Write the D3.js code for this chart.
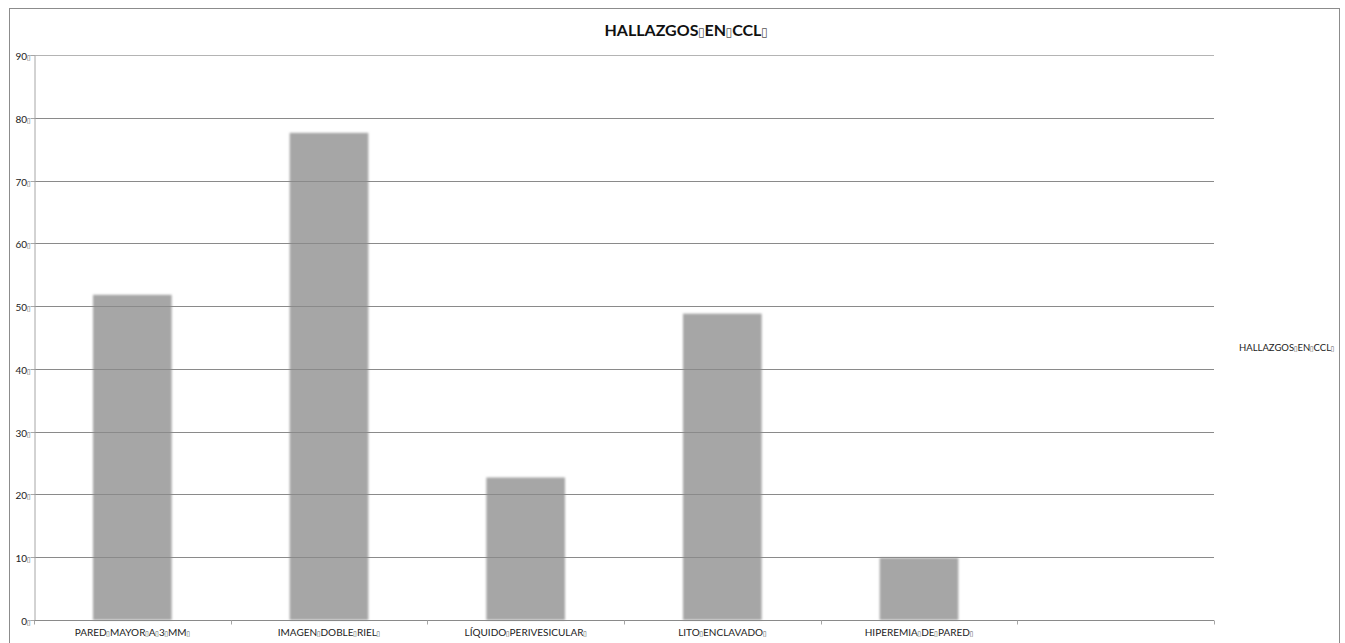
<!DOCTYPE html>
<html><head><meta charset="utf-8">
<script src="https://cdn.jsdelivr.net/npm/d3@7"></script>
<style>
html,body{margin:0;padding:0;background:#fff;}
svg{display:block;font-family:Lato,"Liberation Sans",sans-serif;}
</style></head>
<body>
<svg id="c" width="1345" height="643"></svg>
<script>
const T = "\u25AF"; // tofu-like placeholder seen in the reference text
const title = "HALLAZGOS" + T + "EN" + T + "CCL" + T;
const categories = ["PARED"+T+"MAYOR"+T+"A"+T+"3"+T+"MM"+T, "IMAGEN"+T+"DOBLE"+T+"RIEL"+T, "LÍQUIDO"+T+"PERIVESICULAR"+T, "LITO"+T+"ENCLAVADO"+T, "HIPEREMIA"+T+"DE"+T+"PARED"+T, ""];
const values = [51.8, 77.6, 22.7, 48.8, 9.9, null];
const yTicks = [0,10,20,30,40,50,60,70,80,90];
const seriesName = "HALLAZGOS" + T + "EN" + T + "CCL" + T;

const svg = d3.select("#c");
const m = {left:34, right:1214, top:55, bottom:620};

const defs = svg.append("defs");
defs.append("filter").attr("id","soft").attr("x","-10%").attr("y","-10%").attr("width","120%").attr("height","120%")
  .append("feGaussianBlur").attr("stdDeviation",1.1);

// outer frame
svg.append("rect").attr("x",9.5).attr("y",8.5).attr("width",1330).attr("height",660)
  .attr("fill","none").attr("stroke","#8c8c8c").attr("stroke-width",1);

const x = d3.scaleBand().domain(d3.range(categories.length)).range([m.left, m.right]).paddingInner(0).paddingOuter(0);
const y = d3.scaleLinear().domain([0,90]).range([m.bottom, m.top]);

function addText(sel, str, tofuSize){
  const parts = str.split(T);
  parts.forEach((p,i)=>{
    if(p) sel.append("tspan").text(p);
    if(i < parts.length-1) sel.append("tspan").attr("font-size",tofuSize).attr("font-weight","normal")
      .attr("fill","#555").attr("font-family","DejaVu Sans").attr("dx",-0.5).text(T);
  });
}

// bars
const bw = x.bandwidth()*0.4;
svg.append("g").selectAll("rect").data(values.map((v,i)=>({v,i})).filter(d=>d.v!=null)).join("rect")
  .attr("x", d=> x(d.i) + (x.bandwidth()-bw)/2)
  .attr("y", d=> y(d.v))
  .attr("width", bw)
  .attr("height", d=> y(0)-y(d.v))
  .attr("fill","#a6a6a6")
  .attr("filter","url(#soft)");

// gridlines (drawn over bars)
svg.append("g").selectAll("line").data(yTicks.slice(1)).join("line")
  .attr("x1", m.left).attr("x2", m.right)
  .attr("y1", d=> Math.round(y(d))+0.5).attr("y2", d=> Math.round(y(d))+0.5)
  .attr("stroke", d=> d===90 ? "#b4b4b4" : "#8a8a8a").attr("stroke-width",1);

// y axis
const yAxis = d3.axisLeft(y).tickValues(yTicks).tickSize(4).tickFormat(d=>d);
const gy = svg.append("g").attr("transform",`translate(${m.left+0.5},0)`).call(yAxis);
gy.select(".domain").attr("stroke","#a6a6a6");
gy.selectAll(".tick line").attr("stroke","#a6a6a6");
gy.selectAll(".tick").attr("transform", d=>`translate(0,${Math.round(y(d))+0.5})`);
gy.selectAll(".tick text").each(function(d){
  const t = d3.select(this); t.text(null);
  addText(t, d + T, "7px");
}).attr("x",-4).attr("dy","0.4em").attr("font-size","10px").attr("fill","#222").attr("font-family","Lato,sans-serif");

// x axis
const xb = d3.scaleLinear().domain([0,categories.length]).range([m.left,m.right]);
const gx = svg.append("g").attr("transform",`translate(0,${m.bottom+0.5})`);
gx.append("line").attr("x1",m.left).attr("x2",m.right).attr("stroke","#8a8a8a");
gx.selectAll("line.tk").data(d3.range(categories.length+1)).join("line").attr("class","tk")
  .attr("x1",d=>Math.round(xb(d))+0.5).attr("x2",d=>Math.round(xb(d))+0.5).attr("y1",0).attr("y2",4)
  .attr("stroke","#a6a6a6");
gx.selectAll("text").data(categories).join("text")
  .attr("x",(d,i)=> x(i)+x.bandwidth()/2).attr("y",15)
  .attr("text-anchor","middle").attr("font-size","10px").attr("fill","#222")
  .each(function(d){ addText(d3.select(this), d, "7px"); });

// title
const tt = svg.append("text").attr("x",686).attr("y",36).attr("text-anchor","middle")
  .attr("font-size","16px").attr("font-weight","bold").attr("fill","#111");
addText(tt, title, "12px");

// legend
const lg = svg.append("text").attr("x",1239).attr("y",351).attr("font-size","9.5px").attr("fill","#222");
addText(lg, seriesName, "7px");
</script>
</body></html>
